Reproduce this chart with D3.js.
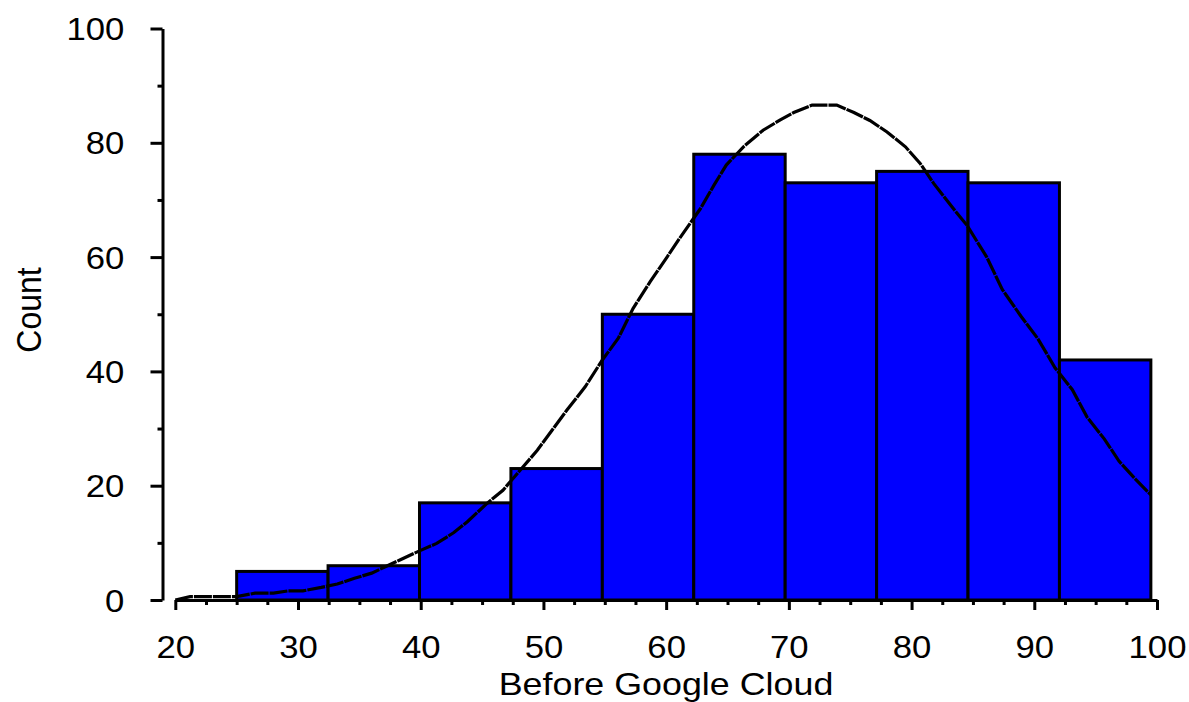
<!DOCTYPE html>
<meta charset="utf-8">
<script src="https://d3js.org/d3.v7.min.js"></script>
<style>
    body { margin: 0; background: #fff; }
    text { font-family: "Liberation Sans", Arial, sans-serif; fill: #000; }
</style>
<div id="chart"></div>
<script>

    // histogram bins (lower edge, upper edge) and counts
    var binEdges = [25, 32.45, 39.9, 47.35, 54.8, 62.25, 69.7, 77.15, 84.6, 92.05, 99.5];
    var counts = [5, 6, 17, 23, 50, 78, 73, 75, 73, 42];

    // fitted curve
    var curveX = [20, 21.2, 25, 26.5, 28, 29.2, 30.4, 31.9, 33.2, 34.6, 36.0, 37.2, 38.3, 39.9, 41.3, 42.7, 43.8, 45.4, 46.7, 48.1, 49.5, 50.7, 51.9, 53.4, 54.8, 56.1, 57.3, 58.7, 60.1, 61.1, 62.8, 63.9, 64.9, 66.3, 67.9, 69.3, 70.4, 71.9, 73.9, 75.3, 76.6, 78.0, 79.5, 80.7, 81.8, 83.4, 84.5, 86.1, 87.4, 88.9, 90.3, 91.7, 93.1, 94.3, 95.7, 96.9, 98.3, 99.5];
    var curveY = [0, 0.6, 0.6, 1.2, 1.2, 1.6, 1.6, 2.2, 2.8, 3.8, 4.7, 5.9, 7.0, 8.6, 9.9, 11.8, 13.7, 16.9, 19.2, 22.7, 26.2, 29.7, 33.2, 37.3, 42.0, 45.8, 51.0, 55.7, 60.1, 63.3, 68.5, 72.6, 76.1, 79.3, 82.2, 84.0, 85.3, 86.6, 86.6, 85.3, 83.9, 81.9, 79.3, 76.4, 72.9, 68.5, 65.6, 60.1, 54.3, 49.7, 45.7, 40.6, 36.8, 32.0, 28.2, 24.3, 21.0, 18.4];

    var xTicks = [20, 30, 40, 50, 60, 70, 80, 90, 100];
    var xMinor = d3.range(22.5, 100, 2.5).filter(function (v) { return v % 10 !== 0; });
    var yTicks = [0, 20, 40, 60, 80, 100];
    var yMinor = [10, 30, 50, 70, 90];

    var width = 1189, height = 702;
    var stretch = 1.12; // text in the original is a bit wide

    var svg = d3.select("#chart")
        .append("svg")
        .attr("width", width)
        .attr("height", height);

    var x = d3.scaleLinear().domain([20, 100]).range([175.3, 1157]);
    var y = d3.scaleLinear().domain([0, 100]).range([600, 28.5]);

    // bars
    var bins = counts.map(function (c, i) {
        return { x0: binEdges[i], x1: binEdges[i + 1], n: c };
    });
    svg.selectAll("rect.bar")
        .data(bins)
        .enter()
        .append("rect")
        .attr("class", "bar")
        .attr("x", function (d) { return x(d.x0); })
        .attr("y", function (d) { return y(d.n); })
        .attr("width", function (d) { return x(d.x1) - x(d.x0); })
        .attr("height", function (d) { return y(0) - y(d.n); })
        .attr("fill", "#0000ff")
        .attr("stroke", "#000")
        .attr("stroke-width", 3);

    // curve
    var pts = curveX.map(function (v, i) { return [v, curveY[i]]; });
    svg.append("path")
        .datum(pts)
        .attr("fill", "none")
        .attr("stroke", "#000")
        .attr("stroke-width", 3.2)
        .attr("stroke-dasharray", "18,1")
        .attr("d", d3.line()
            .x(function (d) { return x(d[0]); })
            .y(function (d) { return y(d[1]); }));

    // x axis
    var gx = svg.append("g")
        .attr("transform", "translate(0,600)")
        .call(d3.axisBottom(x).tickValues(xTicks).tickSize(10).tickSizeOuter(0).tickPadding(26));
    svg.append("g")
        .attr("transform", "translate(0,600)")
        .call(d3.axisBottom(x).tickValues(xMinor).tickSize(5).tickFormat(""))
        .select(".domain").remove();

    // y axis
    var gy = svg.append("g")
        .attr("transform", "translate(162.5,0)")
        .call(d3.axisLeft(y).tickValues(yTicks).tickSize(12).tickSizeOuter(0).tickPadding(22));
    svg.append("g")
        .attr("transform", "translate(162.5,0)")
        .call(d3.axisLeft(y).tickValues(yMinor).tickSize(5).tickFormat(""))
        .select(".domain").remove();

    svg.selectAll(".domain, .tick line")
        .attr("stroke", "#000")
        .attr("stroke-width", 3);

    svg.selectAll(".tick text")
        .style("font-size", "31px")
        .attr("fill", "#000")
        .attr("transform", "scale(" + stretch + ",1)");
    gy.selectAll(".tick text").attr("dy", "0.36em");

    // axis titles
    svg.append("text")
        .attr("transform", "translate(666,695) scale(" + stretch + ",1)")
        .attr("text-anchor", "middle")
        .style("font-size", "32px")
        .text("Before Google Cloud");

    svg.append("text")
        .attr("transform", "translate(41,310) scale(" + stretch + ",1) rotate(-90)")
        .attr("text-anchor", "middle")
        .style("font-size", "32px")
        .text("Count");

</script>
